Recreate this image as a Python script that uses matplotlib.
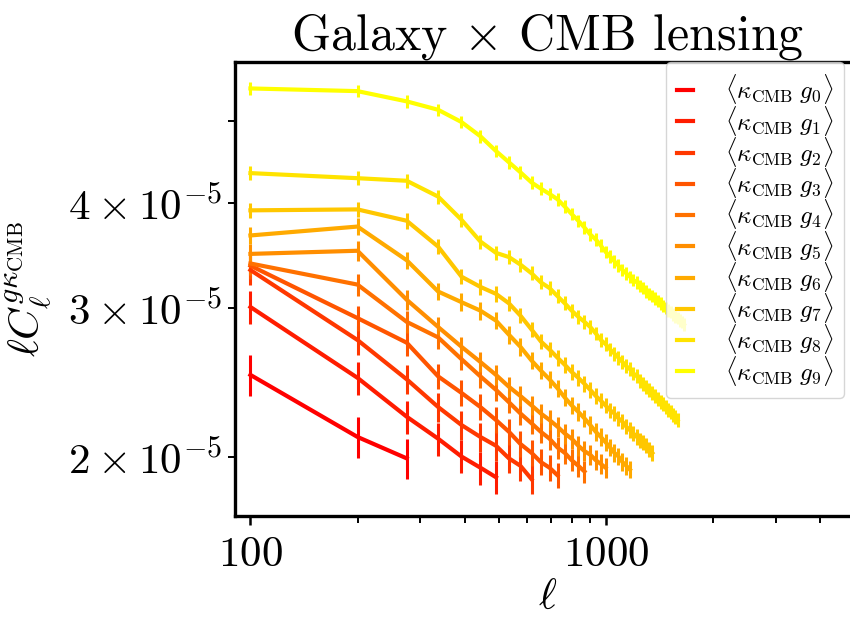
import matplotlib
matplotlib.use("Agg")
import numpy as np
import matplotlib.pyplot as plt
from matplotlib.ticker import ScalarFormatter, NullFormatter

plt.rcParams['mathtext.fontset'] = 'cm'
plt.rcParams['font.family'] = ['cmr10', 'DejaVu Serif']
plt.rcParams['axes.formatter.use_mathtext'] = True

# multipole bin centres (shared by all tomographic bins)
ell = [100, 200, 275, 337, 392, 443, 490, 533, 574, 617, 655, 693, 730, 765, 800,
       835, 869, 902, 935, 966, 996, 1026, 1055, 1083, 1111, 1139, 1166, 1193, 1220,
       1246, 1272, 1298, 1323, 1348, 1373, 1398, 1422, 1446, 1470, 1494, 1518, 1541,
       1564, 1587, 1610, 1633, 1656]

# ell * C_ell in units of 1e-5
g0 = [2.50, 2.11, 1.99]
g1 = [3.01, 2.48, 2.23, 2.10, 2.00, 1.94, 1.89]
g2 = [3.33, 2.75, 2.47, 2.29, 2.18, 2.11, 2.06, 1.99, 1.95, 1.88]
g3 = [3.37, 2.92, 2.73, 2.49, 2.38, 2.29, 2.21, 2.14, 2.07, 2.02, 1.97, 1.94, 1.90]
g4 = [3.39, 3.20, 2.89, 2.77, 2.61, 2.49, 2.40, 2.32, 2.25, 2.19, 2.14, 2.10, 2.05,
      2.02, 1.98, 1.95, 1.92]
g5 = [3.48, 3.51, 3.07, 2.85, 2.70, 2.59, 2.50, 2.42, 2.36, 2.30, 2.25, 2.21, 2.17,
      2.13, 2.10, 2.06, 2.03, 2.01, 1.98, 1.96, 1.94]
g6 = [3.66, 3.75, 3.42, 3.14, 3.05, 2.98, 2.90, 2.79, 2.70, 2.60, 2.53, 2.47, 2.41,
      2.35, 2.30, 2.26, 2.22, 2.18, 2.14, 2.11, 2.08, 2.05, 2.02, 2.00, 1.97, 1.95, 1.93]
g7 = [3.92, 3.93, 3.81, 3.55, 3.27, 3.18, 3.12, 3.04, 2.94, 2.83, 2.74, 2.68, 2.62,
      2.57, 2.52, 2.48, 2.44, 2.40, 2.36, 2.33, 2.30, 2.27, 2.25, 2.22, 2.20, 2.17,
      2.15, 2.13, 2.11, 2.09, 2.08, 2.06, 2.04, 2.02]
g8 = [4.34, 4.28, 4.25, 4.07, 3.82, 3.60, 3.49, 3.45, 3.38, 3.30, 3.22, 3.17, 3.10,
      3.04, 2.98, 2.93, 2.89, 2.85, 2.80, 2.75, 2.72, 2.68, 2.65, 2.62, 2.59, 2.56,
      2.54, 2.51, 2.49, 2.46, 2.44, 2.42, 2.40, 2.38, 2.36, 2.34, 2.32, 2.31, 2.29,
      2.27, 2.26, 2.24, 2.23, 2.21]
g9 = [5.47, 5.43, 5.28, 5.16, 4.99, 4.80, 4.61, 4.47, 4.35, 4.23, 4.16, 4.10, 4.04,
      3.96, 3.88, 3.81, 3.74, 3.67, 3.62, 3.56, 3.50, 3.455, 3.41, 3.37, 3.33, 3.30,
      3.27, 3.24, 3.22, 3.19, 3.17, 3.14, 3.12, 3.10, 3.08, 3.06, 3.04, 3.02, 3.00,
      2.98, 2.97, 2.95, 2.93, 2.92, 2.90, 2.89, 2.87]

series = [g0, g1, g2, g3, g4, g5, g6, g7, g8, g9]
# fractional error bar per bin
frac_err = [0.055, 0.045, 0.04, 0.035, 0.03, 0.027, 0.024, 0.021, 0.019, 0.017]

colors = plt.cm.autumn(np.linspace(0, 1, len(series)))

fig = plt.figure(figsize=(8.5, 6.18), dpi=100)
ax = fig.add_axes([235 / 850, 102 / 618, 625 / 850, 454 / 618])

handles = []
for i, vals in enumerate(series):
    x = np.array(ell[:len(vals)])
    y = np.array(vals) * 1e-5
    cont = ax.errorbar(x, y, yerr=frac_err[i] * y, color=colors[i], lw=3,
                       elinewidth=2.2, capsize=0)
    cont.lines[0].set_label(r'$\langle\kappa_{\mathrm{CMB}}\;g_{%d}\rangle$' % i)
    handles.append(cont.lines[0])

ax.set_xscale('log')
ax.set_yscale('log')
ax.set_xlim(90.5, 5170)
ax.set_ylim(1.70e-5, 5.88e-5)

ax.xaxis.set_major_formatter(ScalarFormatter())
ax.xaxis.set_minor_formatter(NullFormatter())

for s in ax.spines.values():
    s.set_linewidth(2.4)
ax.tick_params(which='major', length=6.5, width=1.8, labelsize=31, pad=5)
ax.tick_params(which='minor', length=5, width=1.4, labelsize=31, pad=4)
ax.tick_params(axis='x', which='major', pad=8)

ax.set_xlabel(r'$\ell$', fontsize=31, labelpad=4)
ax.set_ylabel(r'$\ell C_\ell^{g\kappa_{\mathrm{CMB}}}$', fontsize=31)
ax.yaxis.set_label_coords(-0.29, 0.5)
ax.set_title(r'Galaxy $\times$ CMB lensing', fontsize=36, pad=4)

ax.legend(handles=handles, loc='upper left', bbox_to_anchor=(666 / 850, 1 - 62 / 618),
          bbox_transform=fig.transFigure, fontsize=18, handlelength=0.65,
          handletextpad=1.3, labelspacing=-0.11, borderpad=0.42, borderaxespad=0)

fig.savefig('out.png', dpi=100)
